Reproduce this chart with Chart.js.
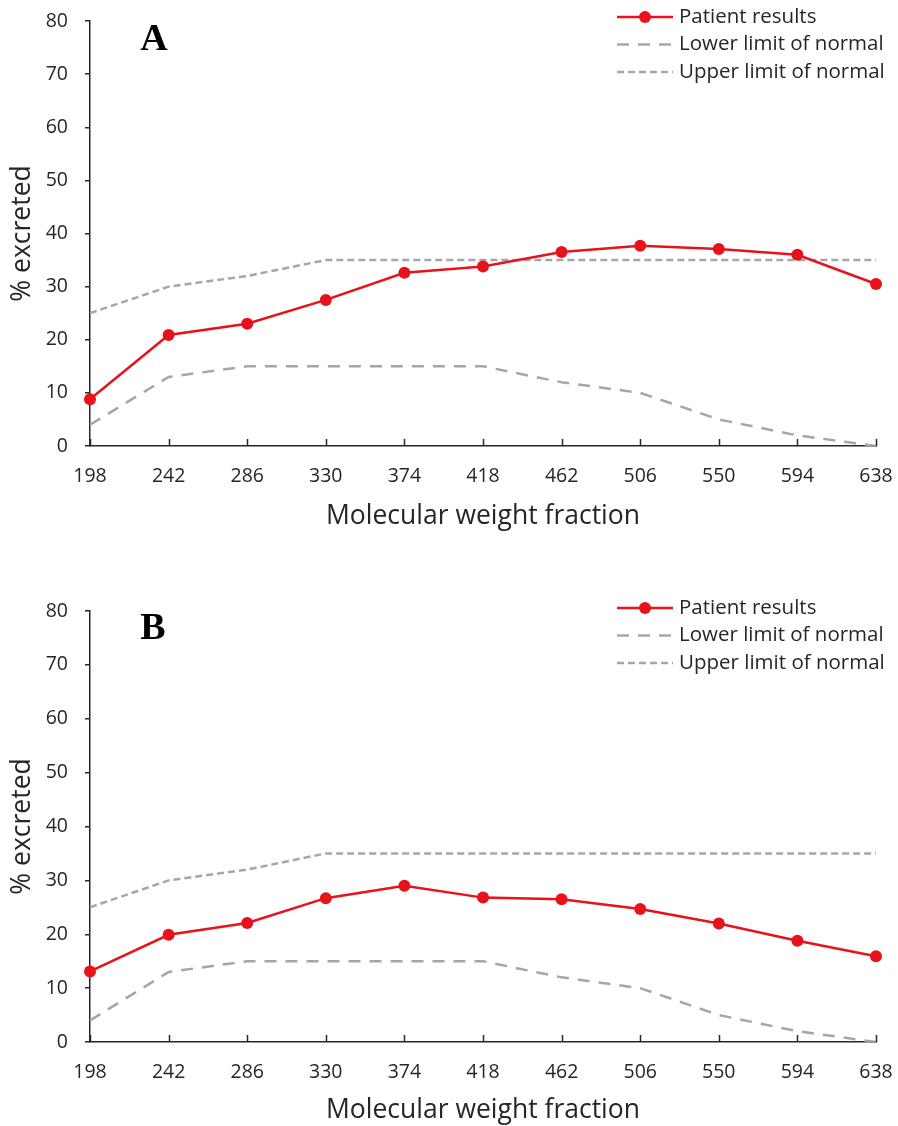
<!DOCTYPE html>
<html>
<head>
<meta charset="utf-8">
<script src="https://cdn.jsdelivr.net/npm/chart.js@4.4.1/dist/chart.umd.min.js"></script>
<style>
  body { margin: 0; background: #fff; }
  canvas { position: absolute; left: 0; }
  #chartA { top: 0; }
  #chartB { top: 566px; }
</style>
</head>
<body>
<canvas id="chartA" width="898" height="540"></canvas>
<canvas id="chartB" width="898" height="560"></canvas>
<script>
// molecular weight fractions (x categories)
var fractions = ["198", "242", "286", "330", "374", "418", "462", "506", "550", "594", "638"];

// % excreted
var patientA = [8.8, 20.9, 23.0, 27.5, 32.6, 33.8, 36.5, 37.7, 37.1, 36.0, 30.5];
var patientB = [13.1, 19.9, 22.1, 26.7, 29.0, 26.8, 26.5, 24.7, 22.0, 18.8, 15.9];
var lowerLimit = [4, 13, 15, 15, 15, 15, 12, 10, 5, 2, 0];
var upperLimit = [25, 30, 32, 35, 35, 35, 35, 35, 35, 35, 35];

var yMin = 0, yMax = 80, yStep = 10;

var textColor = "#262626";
var axisColor = "#262626";
var red = "#e8121c";
var grey = "#a6a6a6";
var fontFamily = "'Open Sans', sans-serif";

// inward tick marks on the x axis
var innerTicks = {
    id: "innerTicks",
    afterDraw: function(chart) {
        var ctx = chart.ctx;
        var xs = chart.scales.x;
        ctx.save();
        ctx.strokeStyle = axisColor;
        ctx.lineWidth = 1.5;
        for (var i = 0; i < xs.ticks.length; i++) {
            var px = Math.round(xs.getPixelForTick(i)) + 0.5;
            ctx.beginPath();
            ctx.moveTo(px, xs.top);
            ctx.lineTo(px, xs.top - 7);
            ctx.stroke();
        }
        ctx.restore();
    }
};

// legend in the top right corner + panel letter
var cornerLegend = {
    id: "cornerLegend",
    afterDraw: function(chart, args, opts) {
        var ctx = chart.ctx;
        ctx.save();
        chart.data.datasets.forEach(function(ds, i) {
            var y = opts.y + i * opts.rowH;
            ctx.strokeStyle = ds.borderColor;
            ctx.lineWidth = ds.borderWidth;
            ctx.setLineDash(ds.borderDash || []);
            ctx.beginPath();
            ctx.moveTo(opts.x, y);
            ctx.lineTo(opts.x + opts.len, y);
            ctx.stroke();
            ctx.setLineDash([]);
            if (ds.pointRadius > 0) {
                ctx.fillStyle = ds.pointBackgroundColor;
                ctx.beginPath();
                ctx.arc(opts.x + opts.len / 2, y, ds.pointRadius, 0, Math.PI * 2);
                ctx.fill();
            }
            ctx.fillStyle = textColor;
            ctx.font = "20.5px " + fontFamily;
            ctx.textBaseline = "middle";
            ctx.textAlign = "left";
            ctx.fillText(ds.label, opts.x + opts.len + 6, y);
        });
        ctx.font = "bold 38px 'Liberation Serif', 'Times New Roman', serif";
        ctx.fillStyle = "#000";
        ctx.textAlign = "center";
        ctx.textBaseline = "middle";
        ctx.fillText(opts.letter, opts.lx, opts.ly);
        ctx.restore();
    }
};

function makeChart(id, patient, cfg) {
    var ctx = document.getElementById(id);
    return new Chart(ctx, {
        type: "line",
        data: {
            labels: fractions,
            datasets: [
                {
                    label: "Patient results",
                    data: patient,
                    borderColor: red,
                    backgroundColor: red,
                    pointBackgroundColor: red,
                    pointBorderColor: red,
                    borderWidth: 2.5,
                    pointRadius: 6,
                    pointBorderWidth: 0,
                    fill: false,
                    tension: 0
                },
                {
                    label: "Lower limit of normal",
                    data: lowerLimit,
                    borderColor: grey,
                    borderWidth: 2.5,
                    borderDash: [12, 9],
                    pointRadius: 0,
                    fill: false,
                    tension: 0
                },
                {
                    label: "Upper limit of normal",
                    data: upperLimit,
                    borderColor: grey,
                    borderWidth: 2.5,
                    borderDash: [7, 4],
                    pointRadius: 0,
                    fill: false,
                    tension: 0
                }
            ]
        },
        options: {
            responsive: false,
            animation: false,
            layout: { padding: { top: cfg.top, right: 22, left: 0, bottom: 0 } },
            plugins: {
                legend: { display: false },
                tooltip: { enabled: false },
                cornerLegend: cfg.legend
            },
            scales: {
                x: {
                    type: "category",
                    offset: false,
                    grid: { display: true, drawOnChartArea: false, drawTicks: false },
                    border: { display: true, color: axisColor, width: 1.5 },
                    ticks: {
                        padding: 19,
                        color: textColor,
                        font: { family: fontFamily, size: 19.5 },
                        maxRotation: 0,
                        autoSkip: false
                    },
                    title: {
                        display: true,
                        text: "Molecular weight fraction",
                        color: textColor,
                        font: { family: fontFamily, size: 26.5 },
                        padding: { top: 0, bottom: cfg.titlePad }
                    },
                    afterFit: function(scale) {
                        scale.height = cfg.xHeight;
                        scale.paddingLeft = 0;
                        scale.paddingRight = 0;
                    }
                },
                y: {
                    min: yMin,
                    max: yMax,
                    grid: { drawOnChartArea: false, drawTicks: true, tickLength: 5, color: axisColor, lineWidth: 1.5 },
                    border: { display: true, color: axisColor, width: 1.5 },
                    ticks: {
                        stepSize: yStep,
                        padding: 17,
                        color: textColor,
                        font: { family: fontFamily, size: 19.5 }
                    },
                    title: {
                        display: true,
                        text: "% excreted",
                        color: textColor,
                        font: { family: fontFamily, size: 26.5 },
                        padding: { top: 7, bottom: 0 }
                    },
                    afterFit: function(scale) {
                        scale.width = 90;
                        scale.paddingTop = 0;
                        scale.paddingBottom = 0;
                    }
                }
            }
        },
        plugins: [innerTicks, cornerLegend]
    });
}

makeChart("chartA", patientA, {
    top: 21, xHeight: 94, titlePad: 8,
    legend: { x: 617, y: 17, rowH: 27.5, len: 56, letter: "A", lx: 154, ly: 40 }
});

makeChart("chartB", patientB, {
    top: 45, xHeight: 84, titlePad: 0,
    legend: { x: 617, y: 42, rowH: 27.5, len: 56, letter: "B", lx: 153, ly: 63 }
});
</script>
</body>
</html>
